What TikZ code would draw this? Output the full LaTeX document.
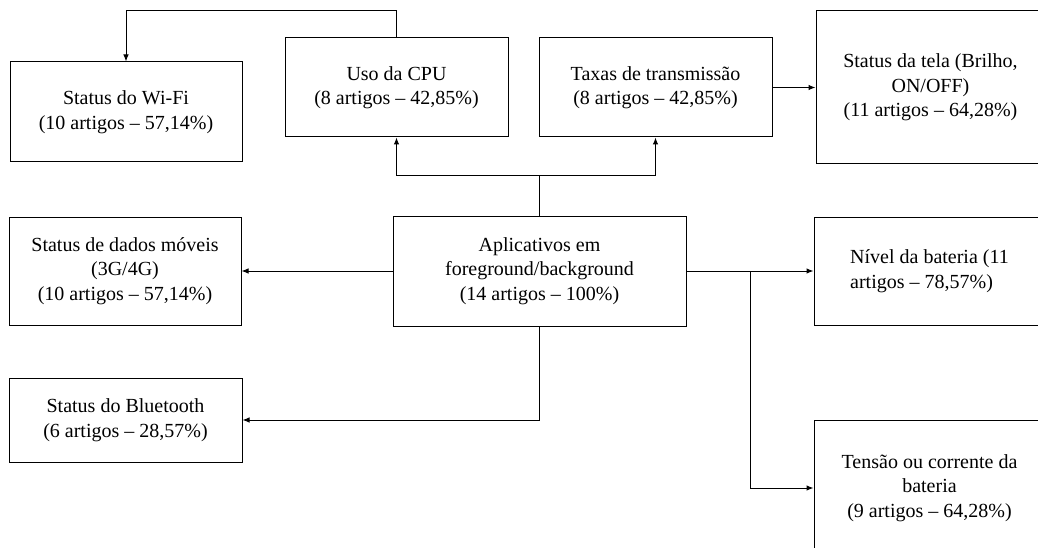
\documentclass[tikz,border=0pt]{standalone}
\usepackage{fontspec}
\setmainfont{Liberation Serif}
\usetikzlibrary{arrows.meta}
\begin{document}
\begin{tikzpicture}[x=1pt,y=-1pt,
  box/.style={draw, line width=1pt, rectangle, align=center, inner sep=0pt,
    font=\fontsize{20}{24.5}\selectfont},
  conn/.style={line width=1pt},
  arr/.style={conn, -{Latex[length=7pt,width=5.5pt]}}]
\fill[white] (0,0) rectangle (1038,548);
\useasboundingbox (0,0) rectangle (1038,548);
\node[box, minimum width=232pt, minimum height=100pt] (wifi) at (126,112) {Status do Wi-Fi\\(10 artigos – 57,14\%)};
\node[box, minimum width=223pt, minimum height=99pt] (cpu) at (396.5,87.5) {Uso da CPU\\(8 artigos – 42,85\%)};
\node[box, minimum width=233pt, minimum height=99pt] (taxas) at (655.5,87.5) {Taxas de transmissão\\(8 artigos – 42,85\%)};
\node[box, minimum width=229pt, minimum height=153pt] (tela) at (930.5,87.5) {Status da tela (Brilho,\\ON/OFF)\\(11 artigos – 64,28\%)};
\node[box, minimum width=232pt, minimum height=108pt] (dados) at (125,271) {Status de dados móveis\\(3G/4G)\\(10 artigos – 57,14\%)};
\node[box, minimum width=293pt, minimum height=110pt] (central) at (539.5,271) {Aplicativos em\\foreground/background\\(14 artigos – 100\%)};
\node[box, minimum width=231pt, minimum height=108pt, align=left] (nivel) at (929.5,271) {Nível da bateria (11\\artigos – 78,57\%)};
\node[box, minimum width=233pt, minimum height=84pt] (bt) at (125.5,420) {Status do Bluetooth\\(6 artigos – 28,57\%)};
\node[box, minimum width=231pt, minimum height=136pt] (tensao) at (929.5,488) {Tensão ou corrente da\\bateria\\(9 artigos – 64,28\%)};
\coordinate (topy) at (0,11);
\coordinate (midy) at (0,176);
\coordinate (br) at (750,271);
\draw[arr] (cpu.north) -- (cpu.north |- topy) -| (wifi.north);
\draw[conn] (central.north) -- (central.north |- midy) coordinate (j1);
\draw[arr] (j1) -| (cpu.south);
\draw[arr] (j1) -| (taxas.south);
\draw[arr] (taxas.east) -- (tela.west |- taxas.east);
\draw[arr] (central.west) -- (dados.east);
\draw[arr] (central.south) |- (bt.east);
\draw[arr] (central.east) -- (nivel.west);
\draw[arr] (br) |- (tensao.west);
\end{tikzpicture}
\end{document}
